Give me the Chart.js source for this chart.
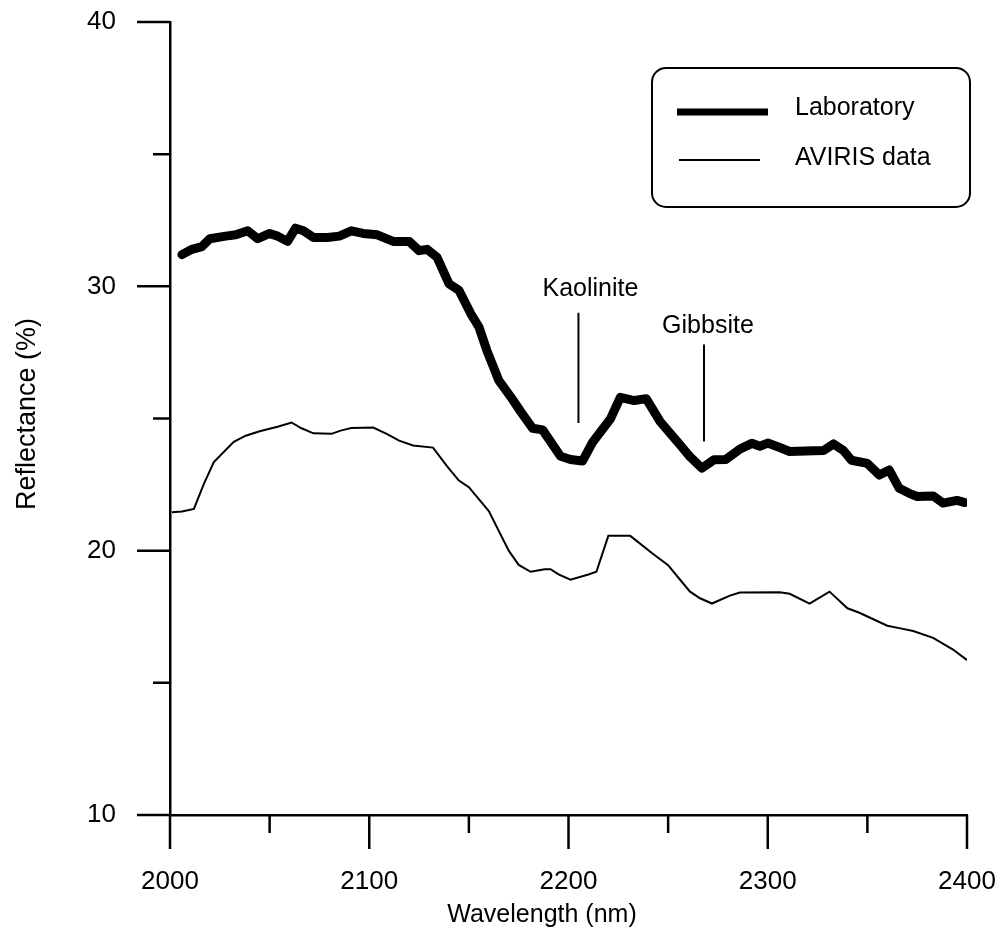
<!DOCTYPE html>
<html>
<head>
<meta charset="utf-8">
<title>Reflectance spectra</title>
<script src="https://cdn.jsdelivr.net/npm/chart.js@4.4.1/dist/chart.umd.min.js"></script>
<style>
  html, body { margin: 0; padding: 0; background: #fff; }
  canvas { display: block; }
</style>
</head>
<body>
<canvas id="spectrumChart" width="1000" height="938"></canvas>
<script>
// Laboratory spectrum (wavelength in nm, reflectance in %)
const labWavelength = [2006, 2011, 2016, 2020, 2028, 2033, 2039, 2044, 2050, 2054, 2059, 2063, 2067, 2072, 2079, 2085, 2091, 2097, 2104, 2112, 2120, 2125, 2129, 2134, 2140, 2145, 2151, 2155, 2159, 2165, 2171, 2176, 2182, 2187, 2196, 2201, 2207, 2212, 2221, 2226, 2233, 2239, 2246, 2256, 2261, 2267, 2273, 2279, 2286, 2292, 2296, 2300, 2306, 2311, 2323, 2328, 2333, 2338, 2342, 2350, 2356, 2361, 2366, 2371, 2375, 2383, 2388, 2395, 2399];
const labReflectance = [31.2, 31.4, 31.5, 31.8, 31.9, 31.95, 32.1, 31.8, 32.0, 31.9, 31.7, 32.2, 32.1, 31.85, 31.85, 31.9, 32.1, 32.0, 31.95, 31.7, 31.7, 31.35, 31.4, 31.1, 30.1, 29.85, 28.96, 28.47, 27.58, 26.44, 25.82, 25.26, 24.63, 24.57, 23.57, 23.45, 23.39, 24.09, 24.98, 25.8, 25.68, 25.75, 24.88, 24.0, 23.55, 23.12, 23.44, 23.45, 23.84, 24.06, 23.95, 24.07, 23.9, 23.75, 23.78, 23.79, 24.04, 23.79, 23.42, 23.3, 22.86, 23.05, 22.36, 22.17, 22.05, 22.07, 21.8, 21.9, 21.82];

// AVIRIS spectrum
const avirisWavelength = [2001, 2006, 2012, 2017, 2022, 2032, 2038, 2045, 2054, 2061, 2066, 2072, 2081, 2086, 2091, 2102, 2109, 2115, 2122, 2132, 2139, 2145, 2150, 2160, 2170, 2175, 2181, 2188, 2191, 2195, 2201, 2210, 2214, 2220, 2231, 2242, 2250, 2256, 2261, 2266, 2272, 2281, 2286, 2306, 2311, 2321, 2331, 2340, 2346, 2360, 2366, 2373, 2383, 2393, 2400];
const avirisReflectance = [21.45, 21.48, 21.58, 22.53, 23.35, 24.12, 24.35, 24.52, 24.69, 24.85, 24.63, 24.44, 24.42, 24.55, 24.64, 24.66, 24.41, 24.16, 23.98, 23.9, 23.2, 22.65, 22.4, 21.5, 20.0, 19.46, 19.2, 19.3, 19.3, 19.1, 18.9, 19.1, 19.2, 20.56, 20.56, 19.9, 19.45, 18.9, 18.45, 18.2, 18.0, 18.3, 18.42, 18.43, 18.37, 18.0, 18.45, 17.82, 17.65, 17.16, 17.07, 16.96, 16.7, 16.26, 15.86];

// absorption features marked on the plot
const featureNames = ['Kaolinite', 'Gibbsite'];
const featureWavelength = [2205, 2268];

// axis ticks
const xTicks = [2000, 2100, 2200, 2300, 2400];
const yTicks = [10, 20, 30, 40];

const FONT = '"Liberation Sans", Arial, sans-serif';

function toPoints(xs, ys) {
  return xs.map((x, i) => ({ x: x, y: ys[i] }));
}

// major/minor tick marks drawn outside the plot area
const tickMarks = {
  id: 'tickMarks',
  afterDraw(chart) {
    const { ctx, scales: { x, y }, chartArea } = chart;
    ctx.save();
    ctx.strokeStyle = '#000';
    ctx.lineWidth = 2.5;
    ctx.beginPath();
    for (let v = yTicks[0]; v <= yTicks[yTicks.length - 1]; v += 5) {
      const py = y.getPixelForValue(v);
      const len = yTicks.includes(v) ? 33 : 17;
      ctx.moveTo(chartArea.left, py);
      ctx.lineTo(chartArea.left - len, py);
    }
    for (let w = xTicks[0]; w <= xTicks[xTicks.length - 1]; w += 50) {
      const px = x.getPixelForValue(w);
      const len = xTicks.includes(w) ? 34 : 18;
      ctx.moveTo(px, chartArea.bottom);
      ctx.lineTo(px, chartArea.bottom + len);
    }
    ctx.stroke();
    ctx.restore();
  }
};

// feature labels with a vertical pointer line
const featureLabels = {
  id: 'featureLabels',
  afterDatasetsDraw(chart) {
    const { ctx, scales: { x, y } } = chart;
    const spans = [[29.0, 24.83, 29.9, 2211], [27.8, 24.13, 28.48, 2270]];
    ctx.save();
    ctx.strokeStyle = '#000';
    ctx.fillStyle = '#000';
    ctx.lineWidth = 2;
    ctx.font = '25px ' + FONT;
    ctx.textAlign = 'center';
    ctx.textBaseline = 'middle';
    featureNames.forEach((name, i) => {
      const px = x.getPixelForValue(featureWavelength[i]);
      const [top, bottom, labelY, labelX] = spans[i];
      ctx.beginPath();
      ctx.moveTo(px, y.getPixelForValue(top));
      ctx.lineTo(px, y.getPixelForValue(bottom));
      ctx.stroke();
      ctx.fillText(name, x.getPixelForValue(labelX), y.getPixelForValue(labelY));
    });
    ctx.restore();
  }
};

// boxed legend with rounded corners, plus the axis titles
const boxLegend = {
  id: 'boxLegend',
  afterDraw(chart) {
    const { ctx } = chart;
    ctx.save();
    ctx.strokeStyle = '#000';
    ctx.fillStyle = '#000';
    ctx.lineWidth = 2;
    ctx.beginPath();
    ctx.roundRect(652, 68, 318, 139, 14);
    ctx.stroke();

    ctx.font = '25px ' + FONT;
    ctx.textBaseline = 'middle';
    ctx.textAlign = 'left';
    const rows = [{ y: 112, x0: 677, x1: 768, ty: 108 }, { y: 160, x0: 679, x1: 760, ty: 158 }];
    chart.data.datasets.forEach((ds, i) => {
      const r = rows[i];
      ctx.lineWidth = ds.legendWidth;
      ctx.beginPath();
      ctx.moveTo(r.x0, r.y);
      ctx.lineTo(r.x1, r.y);
      ctx.stroke();
      ctx.fillText(ds.label, 795, r.ty);
    });

    ctx.textAlign = 'center';
    ctx.fillText('Wavelength (nm)', 542, 915);
    ctx.translate(28, 414);
    ctx.rotate(-Math.PI / 2);
    ctx.font = '27px ' + FONT;
    ctx.fillText('Reflectance (%)', 0, 0);
    ctx.restore();
  }
};

new Chart(document.getElementById('spectrumChart'), {
  type: 'line',
  data: {
    datasets: [
      {
        label: 'Laboratory',
        data: toPoints(labWavelength, labReflectance),
        borderColor: '#000',
        borderWidth: 9,
        borderJoinStyle: 'round',
        borderCapStyle: 'round',
        legendWidth: 7,
        pointRadius: 0,
        tension: 0
      },
      {
        label: 'AVIRIS data',
        data: toPoints(avirisWavelength, avirisReflectance),
        borderColor: '#000',
        borderWidth: 2,
        legendWidth: 2,
        pointRadius: 0,
        tension: 0
      }
    ]
  },
  options: {
    responsive: false,
    animation: false,
    layout: { padding: { top: 22, right: 33, left: 0, bottom: 0 } },
    plugins: {
      legend: { display: false },
      tooltip: { enabled: false }
    },
    scales: {
      x: {
        type: 'linear',
        min: 2000,
        max: 2400,
        afterFit: s => { s.height = 123; s.paddingLeft = 0; s.paddingRight = 0; },
        afterBuildTicks: s => { s.ticks = xTicks.map(v => ({ value: v })); },
        grid: { display: false },
        border: { color: '#000', width: 2.5 },
        ticks: {
          color: '#000', padding: 43, maxRotation: 0,
          font: { family: FONT, size: 26 },
          callback: v => String(v)
        }
      },
      y: {
        min: 10,
        max: 40,
        afterFit: s => { s.width = 170; s.paddingTop = 0; s.paddingBottom = 0; },
        afterBuildTicks: s => { s.ticks = yTicks.map(v => ({ value: v })); },
        grid: { display: false },
        border: { color: '#000', width: 2.5 },
        ticks: {
          color: '#000', padding: 46,
          font: { family: FONT, size: 26 },
          callback: v => String(v)
        }
      }
    }
  },
  plugins: [tickMarks, featureLabels, boxLegend]
});
</script>
</body>
</html>
